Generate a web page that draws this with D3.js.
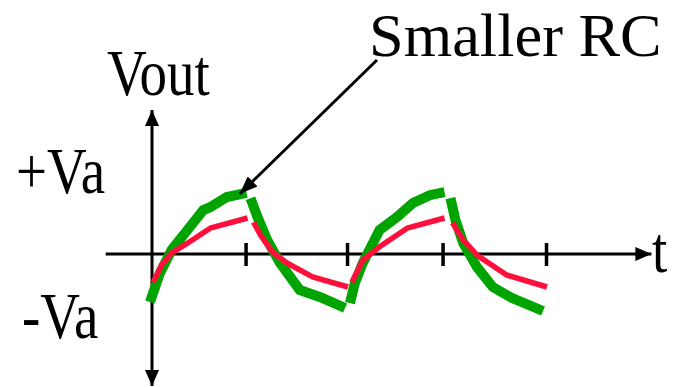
<!DOCTYPE html>
<html>
<head>
<meta charset="utf-8">
<script src="https://cdn.jsdelivr.net/npm/d3@7/dist/d3.min.js"></script>
<style>
  html, body { margin: 0; padding: 0; background: #fff; }
  svg { display: block; }
  text { font-family: "Liberation Serif", "DejaVu Serif", serif; fill: #000; }
</style>
</head>
<body>
<svg id="chart" width="679" height="387"></svg>
<script>
// Time ticks (in periods of the input) and labels
const tickTimes = [0.95, 1.98, 2.95, 4.0];
const levelLabels = ["+Va", "-Va"];

// Output voltage (in units of Va), smaller RC: charge / discharge pieces
const smallRcRise1 = [[-0.02,-0.80],[0.08,-0.32],[0.20,0.07],[0.36,0.40],[0.52,0.73],[0.59,0.78],[0.76,0.95],[0.96,1.02]];
const smallRcFall1 = [[1.00,0.93],[1.07,0.62],[1.17,0.23],[1.30,-0.15],[1.50,-0.60],[1.71,-0.72],[1.96,-0.90]];
const smallRcRise2 = [[2.01,-0.82],[2.06,-0.48],[2.14,-0.15],[2.31,0.40],[2.49,0.62],[2.65,0.85],[2.82,0.98],[2.97,1.03]];
const smallRcFall2 = [[3.03,0.93],[3.08,0.57],[3.16,0.18],[3.30,-0.22],[3.46,-0.55],[3.65,-0.73],[3.97,-0.95]];

// Output voltage, larger RC
const largeRcRise1 = [[0.01,-0.47],[0.10,-0.18],[0.20,0.02],[0.36,0.18],[0.59,0.43],[0.97,0.60]];
const largeRcFall1 = [[1.03,0.53],[1.10,0.32],[1.23,0.02],[1.37,-0.15],[1.63,-0.38],[1.99,-0.55]];
const largeRcRise2 = [[2.03,-0.47],[2.14,-0.10],[2.31,0.12],[2.59,0.43],[2.97,0.60]];
const largeRcFall2 = [[3.05,0.52],[3.16,0.23],[3.30,-0.02],[3.60,-0.35],[4.01,-0.55]];

const smallRc = [smallRcRise1, smallRcFall1, smallRcRise2, smallRcFall2];
const largeRc = [largeRcRise1, largeRcFall1, largeRcRise2, largeRcFall2];

const svg = d3.select("#chart");

const x = d3.scaleLinear().domain([0, 4]).range([152, 546]);
const y = d3.scaleLinear().domain([-1, 1]).range([314, 194]);

const defs = svg.append("defs");
defs.append("marker")
  .attr("id", "head")
  .attr("viewBox", "0 0 16 14")
  .attr("refX", 16).attr("refY", 7)
  .attr("markerWidth", 16).attr("markerHeight", 14)
  .attr("markerUnits", "userSpaceOnUse")
  .attr("orient", "auto-start-reverse")
  .append("path").attr("d", "M0,0 L16,7 L0,14 Z").attr("fill", "#000");

defs.append("marker")
  .attr("id", "calloutHead")
  .attr("viewBox", "0 0 18 14")
  .attr("refX", 18).attr("refY", 7)
  .attr("markerWidth", 18).attr("markerHeight", 14)
  .attr("markerUnits", "userSpaceOnUse")
  .attr("orient", "auto")
  .append("path").attr("d", "M0,0 L18,7 L0,14 Z").attr("fill", "#000");

// horizontal time axis with arrow
svg.append("line")
  .attr("x1", x(-0.47)).attr("x2", x(5.07))
  .attr("y1", y(0)).attr("y2", y(0))
  .attr("stroke", "#000").attr("stroke-width", 3)
  .attr("marker-end", "url(#head)");

// vertical voltage axis, arrows at both ends
svg.append("line")
  .attr("x1", x(0)).attr("x2", x(0))
  .attr("y1", y(-2.2)).attr("y2", y(2.4))
  .attr("stroke", "#000").attr("stroke-width", 3)
  .attr("marker-start", "url(#head)")
  .attr("marker-end", "url(#head)");

// tick marks crossing the time axis
const tickAxis = d3.axisBottom(x)
  .tickValues(tickTimes)
  .tickSizeInner(23).tickSizeOuter(0)
  .tickFormat("");
const tg = svg.append("g")
  .attr("transform", `translate(0,${y(0) - 11})`)
  .call(tickAxis);
tg.select(".domain").remove();
tg.selectAll(".tick line").attr("stroke", "#000").attr("stroke-width", 3.5);

const line = d3.line().x(d => x(d[0])).y(d => y(d[1]));

// smaller RC response (thick green)
svg.append("g").selectAll("path").data(smallRc).join("path")
  .attr("d", line)
  .attr("fill", "none")
  .attr("stroke", "#00a400")
  .attr("stroke-width", 10)
  .attr("stroke-linecap", "butt")
  .attr("stroke-linejoin", "miter");

// larger RC response (red)
svg.append("g").selectAll("path").data(largeRc).join("path")
  .attr("d", line)
  .attr("fill", "none")
  .attr("stroke", "#ff0f3c")
  .attr("stroke-width", 5.5)
  .attr("stroke-linecap", "butt")
  .attr("stroke-linejoin", "round");

// callout arrow pointing to the smaller-RC peak
svg.append("line")
  .attr("x1", 377).attr("y1", 60)
  .attr("x2", x(0.89)).attr("y2", y(1.0))
  .attr("stroke", "#000").attr("stroke-width", 3)
  .attr("marker-end", "url(#calloutHead)");

// labels (tall serif lettering)
function label(px, py, size, sx, sy, str) {
  svg.append("text")
    .attr("transform", `translate(${px},${py}) scale(${sx},${sy})`)
    .attr("font-size", size)
    .text(str);
}
label(369, 56, 58, 1.075, 1.06, "Smaller RC");
label(107, 95, 55, 1, 1.18, "Vout");
label(16, 193, 55, 1, 1.18, levelLabels[0]);
label(22, 338, 55, 1, 1.18, levelLabels[1]);
label(652, 272, 55, 1, 1.18, "t");
</script>
</body>
</html>
